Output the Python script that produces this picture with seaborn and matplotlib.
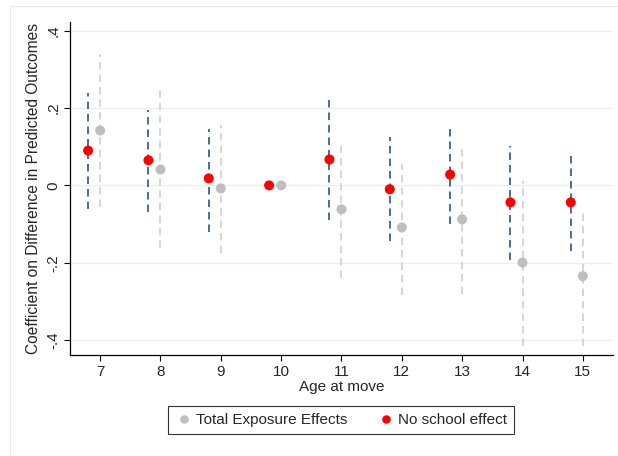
import numpy as np
import pandas as pd
import matplotlib.pyplot as plt
import seaborn as sns
from matplotlib.lines import Line2D

# Dados
ages = [7, 8, 9, 10, 11, 12, 13, 14, 15]

total_coef = [0.142, 0.041, -0.008, 0.0, -0.062, -0.109, -0.088, -0.200, -0.235]
total_lo   = [-0.055, -0.161, -0.174, 0.0, -0.240, -0.285, -0.280, -0.415, -0.415]
total_hi   = [0.341, 0.245, 0.157, 0.0, 0.113, 0.054, 0.095, 0.010, -0.072]

nosch_coef = [0.090, 0.065, 0.018, 0.0, 0.067, -0.010, 0.028, -0.044, -0.044]
nosch_lo   = [-0.060, -0.070, -0.122, 0.0, -0.090, -0.145, -0.100, -0.194, -0.170]
nosch_hi   = [0.240, 0.196, 0.147, 0.0, 0.225, 0.124, 0.155, 0.103, 0.085]

yticks = [-0.4, -0.2, 0, 0.2, 0.4]
ytick_labels = ["-.4", "-.2", "0", ".2", ".4"]

sns.set_style("white")
plt.rcParams['font.family'] = ['Liberation Sans', 'DejaVu Sans']

df = pd.DataFrame({
    'age': ages * 2,
    'x': [a for a in ages] + [a - 0.2 for a in ages],
    'coef': total_coef + nosch_coef,
    'lo': total_lo + nosch_lo,
    'hi': total_hi + nosch_hi,
    'serie': ['Total Exposure Effects'] * len(ages) + ['No school effect'] * len(ages),
})

fig = plt.figure(figsize=(6.18, 4.561), dpi=100)
ax = fig.add_axes([70 / 618, 101 / 456, 543 / 618, 333 / 456])

# linhas de grade horizontais
for y in yticks:
    ax.axhline(y, color='#E8F0F2', linewidth=1.0, zorder=0)

# intervalos de confiança tracejados
cores_ci = {'Total Exposure Effects': '#D0D0D0', 'No school effect': '#2B5680'}
for serie, sub in df.groupby('serie'):
    sub = sub[sub['age'] != 10]
    ax.vlines(sub['x'], sub['lo'], sub['hi'], colors=cores_ci[serie],
              linestyles=(0, (4.5, 3)), linewidth=1.2, zorder=1)

sns.scatterplot(data=df, x='x', y='coef', hue='serie',
                hue_order=['Total Exposure Effects', 'No school effect'],
                palette={'Total Exposure Effects': '#BEBEBE', 'No school effect': '#FF0000'},
                s=52, edgecolor='none', ax=ax, zorder=3)

ax.set_xlim(6.5, 15.5)
ax.set_ylim(-0.439, 0.423)
ax.set_xticks(ages)
ax.set_xticklabels([str(a) for a in ages], fontsize=11)
ax.set_yticks(yticks)
ax.set_yticklabels(ytick_labels, fontsize=11, rotation=90, va='center')
ax.tick_params(axis='both', direction='out', length=4, width=0.8, color='black',
               left=True, bottom=True, pad=3)
ax.set_xlabel("Age at move", fontsize=11, labelpad=1)
ax.set_ylabel("Coefficient on Difference in Predicted Outcomes", fontsize=11.2, labelpad=4)

sns.despine(ax=ax)
ax.spines['left'].set_color('black')
ax.spines['bottom'].set_color('black')
ax.spines['left'].set_linewidth(0.9)
ax.spines['bottom'].set_linewidth(0.9)

leg = ax.legend(loc='center', bbox_to_anchor=(341 / 618, 1 - 420 / 456),
                bbox_transform=fig.transFigure, ncol=2, frameon=True,
                fancybox=False, edgecolor='black', fontsize=11,
                handletextpad=0.2, handlelength=1.2, columnspacing=1.9,
                borderpad=0.45, markerscale=0.85)
leg.get_frame().set_linewidth(0.8)

# moldura externa clara (só topo e esquerda aparecem)
borda = '#E4EBEE'
fig.add_artist(Line2D([10 / 618, 1.0], [1 - 6 / 456, 1 - 6 / 456],
                      transform=fig.transFigure, color=borda, linewidth=0.8))
fig.add_artist(Line2D([10 / 618, 10 / 618], [0, 1 - 6 / 456],
                      transform=fig.transFigure, color=borda, linewidth=0.8))

fig.savefig("out.png", dpi=100, facecolor='white')
